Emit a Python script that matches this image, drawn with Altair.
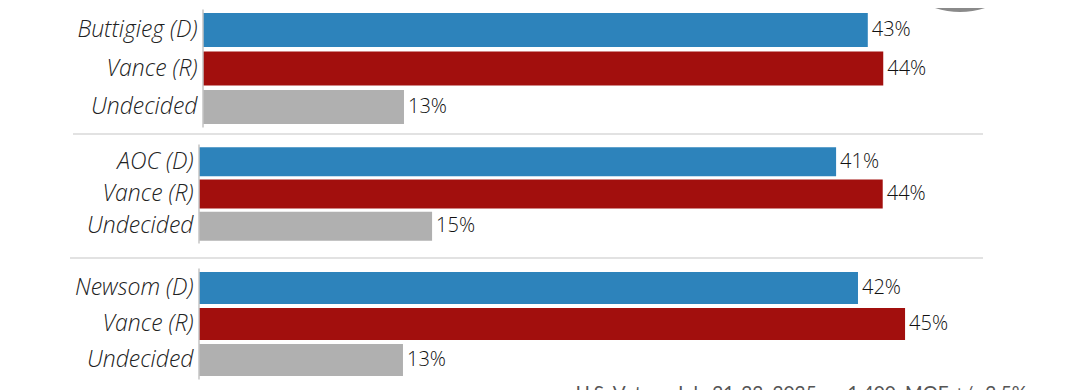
import altair as alt
import pandas as pd

# ---- data ----
labels_1 = ["Buttigieg (D)", "Vance (R)", "Undecided"]
values_1 = [43, 44, 13]
labels_2 = ["AOC (D)", "Vance (R)", "Undecided"]
values_2 = [41, 44, 15]
labels_3 = ["Newsom (D)", "Vance (R)", "Undecided"]
values_3 = [42, 45, 13]
parties = ["D", "R", "U"]
party_colors = ["#2d83bb", "#a20f0d", "#b0b0b0"]
footnote = "U.S. Voters, July 21-23, 2025, n=1,400, MOE +/- 2.5%"

WIDTH = 790
one = pd.DataFrame({"k": [0]})


def panel(labels, values, height, x_domain, label_pad, p_in, p_out,
          sep_y=None, sep_x=-126, note=False, badge=False):
    df = pd.DataFrame({"label": labels, "value": values, "party": parties})
    df["text"] = df["value"].astype(str) + "%"
    xs = alt.Scale(domain=x_domain, nice=False, zero=False)
    y = alt.Y(
        "label:N", sort=labels, title=None,
        scale=alt.Scale(paddingInner=p_in, paddingOuter=p_out),
        axis=alt.Axis(domain=False, ticks=False, labelPadding=label_pad,
                      labelFont="Open Sans", labelFontStyle="italic", labelFontWeight=300,
                      labelFontSize=23, labelColor="#222222",
                      minExtent=191, maxExtent=191, labelLimit=0),
    )
    bars = alt.Chart(df).mark_bar().encode(
        x=alt.X("value:Q", scale=xs, axis=None),
        x2=alt.datum(0),
        y=y,
        color=alt.Color("party:N", scale=alt.Scale(domain=parties, range=party_colors), legend=None),
    )
    text = alt.Chart(df).mark_text(
        align="left", baseline="middle", dx=4, font="Open Sans", fontWeight=300,
        fontSize=20, color="#111111"
    ).encode(x=alt.X("value:Q", scale=xs, axis=None), y=y, text="text:N")
    vline = alt.Chart(one).mark_rule(color="#c4c4c4", strokeWidth=1.5).encode(
        x=alt.datum(0), y=alt.value(1.5), y2=alt.value(height - 1.5)
    )
    layers = [bars, text, vline]
    if sep_y is not None:
        layers.append(alt.Chart(one).mark_rule(color="#e2e2e2", strokeWidth=2).encode(
            x=alt.value(sep_x), x2=alt.value(784), y=alt.value(sep_y)))
    if badge:
        layers.append(alt.Chart(one).mark_point(
            shape="M -25 0 A 79.5 79.5 0 0 0 25 0 Z", size=4, filled=True,
            color="#8a8a8a", opacity=1, strokeWidth=0
        ).encode(x=alt.value(761), y=alt.value(0)))
    if note:
        layers.append(alt.Chart(pd.DataFrame({"note": [footnote]})).mark_text(
            align="right", baseline="top", font="Lato", fontSize=19, color="#555555"
        ).encode(x=alt.value(828), y=alt.value(height + 4), text="note:N"))
    return alt.layer(*layers).properties(width=WIDTH, height=height)


p1 = panel(labels_1, values_1, 121, [-0.259, 50.84], 2, 0.12, 0.13, sep_y=126, sep_x=-126, badge=True)
p2 = panel(labels_2, values_2, 102, [0, 50.84], 6, 0.10, 0.13, sep_y=115, sep_x=-129)
p3 = panel(labels_3, values_3, 114, [0, 50.35], 6, 0.11, 0.14, note=True)

chart = alt.vconcat(p1, p2, p3, spacing=8).resolve_scale(
    x="independent", y="independent"
).properties(padding=0, background="white").configure_view(strokeWidth=0)

chart.save("out.html", embed_options={"renderer": "svg", "actions": False})
